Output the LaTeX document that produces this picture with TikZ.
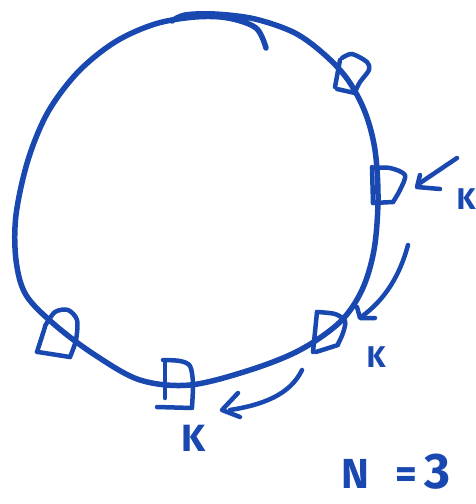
\documentclass[tikz,border=0pt]{standalone}
\usepackage{fontspec}
\newfontfamily\hand{Fira Sans}
\definecolor{ink}{RGB}{24,72,176}
\begin{document}
\begin{tikzpicture}[x=1pt,y=-1pt,
  pen/.style={draw=ink,line width=5.5pt,line cap=round,line join=round},
  thin pen/.style={draw=ink,line width=4.5pt,line cap=round,line join=round},
  lbl/.style={text=ink,font=\hand\bfseries\fontsize{30}{30}\selectfont,inner sep=0pt},
  big/.style={text=ink,font=\hand\bfseries\fontsize{42}{42}\selectfont,inner sep=0pt}]
\useasboundingbox (0,0) rectangle (476,504);
% ring
\draw[pen] plot[smooth,tension=0.55] coordinates {(266,48) (256,28) (228,18) (195,17) (155,24) (115,42) (78,72) (48,112) (28,160) (16,215) (16,260) (26,295) (55,325) (95,355) (140,380) (190,385) (250,370) (300,350) (340,322) (362,290) (374,250) (378,200) (375,150) (365,112) (348,80) (325,55) (295,33) (255,19) (215,14) (185,15) (172,21)};
% D markers
\draw[thin pen] (340,60) -- (335,87);
\draw[thin pen] (337,89) -- (355,93);
\draw[thin pen] plot[smooth] coordinates {(342,58) (352,54) (367,62) (369,70) (360,82) (355,92)};
\draw[thin pen] (372,167) -- (373,203);
\draw[thin pen] plot[smooth] coordinates {(372,168) (390,168) (405,175) (400,190) (393,202)};
\draw[thin pen] (393,202) -- (373,203);
\draw[thin pen] (317,312) -- (313,352);
\draw[thin pen] plot[smooth] coordinates {(317,312) (335,314) (345,321) (343,333) (338,344)};
\draw[thin pen] (338,345) -- (316,352);
\draw[thin pen] (165,362) -- (165,398);
\draw[thin pen] plot[smooth] coordinates {(163,360) (180,361) (190,366) (193,383) (192,407)};
\draw[thin pen] (157,407) -- (192,408);
\draw[thin pen] (45,327) -- (37,352);
\draw[thin pen] (38,352) -- (70,357);
\draw[thin pen] plot[smooth] coordinates {(45,326) (55,312) (68,310) (77,320) (76,340) (70,357)};
% arrows
\coordinate (a1s) at (457,158); \coordinate (a1e) at (420,183);
\draw[thin pen] (a1s) -- (a1e);
\draw[thin pen] (420,175) -- (417,187) -- (440,189);
\coordinate (a2s) at (408,245); \coordinate (a2e) at (361,317);
\draw[thin pen] (a2s) .. controls (400,275) and (385,300) .. (a2e);
\draw[thin pen] (357,307) -- (360,318) -- (375,318);
\coordinate (a3s) at (302,370); \coordinate (a3e) at (230,410);
\draw[thin pen] (a3s) .. controls (290,395) and (262,405) .. (a3e);
\draw[thin pen] (238,393) -- (222,410) -- (240,417);
% labels
\node[lbl] (k2) at (466,199) {K};
\node[lbl] (k3) at (376,357) {K};
\node[lbl,font=\hand\bfseries\fontsize{38}{38}\selectfont] (k4) at (194,438) {K};
\node[big,anchor=base west] (n) at (341,488) {N\hspace{26pt}=\hspace{8pt}{\fontsize{50}{50}\selectfont 3}};
\end{tikzpicture}
\end{document}
